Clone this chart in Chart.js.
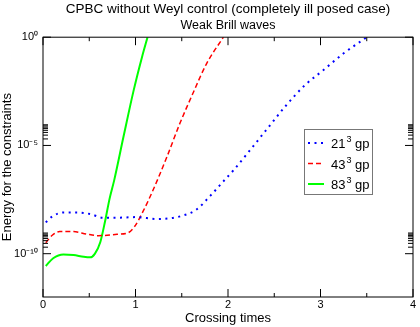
<!DOCTYPE html>
<html>
<head>
<meta charset="utf-8">
<script src="https://cdn.jsdelivr.net/npm/chart.js@4.4.1/dist/chart.umd.min.js"></script>
<style>
  html, body { margin: 0; padding: 0; background: #fff; }
</style>
</head>
<body>
<canvas id="chart" width="420" height="327"></canvas>
<script>
// values (time in crossing times, energy on log axis)
const seriesLabels = ['21³ gp', '43³ gp', '83³ gp'];

const t21 = [0.03, 0.10, 0.22, 0.36, 0.51, 0.65, 0.80, 1.01, 1.23, 1.37, 1.52, 1.66, 1.81, 1.95, 2.06, 2.24, 2.44, 2.63, 2.83, 3.03, 3.25, 3.48, 3.50];
const e21 = [2.8e-9, 5.2e-9, 8.1e-9, 8.1e-9, 6.8e-9, 4.6e-9, 4.6e-9, 4.9e-9, 4.0e-9, 4.3e-9, 5.9e-9, 1.1e-8, 4.8e-8, 2.2e-7, 7.2e-7, 6.2e-6, 7.2e-5, 7.2e-4, 6.0e-3, 3.0e-2, 0.18, 0.87, 1.0];

const t43 = [0.03, 0.10, 0.18, 0.33, 0.47, 0.60, 0.80, 0.92, 0.99, 1.08, 1.19, 1.34, 1.48, 1.62, 1.77, 1.95];
const e43 = [3.2e-10, 7.1e-10, 1.05e-9, 1.05e-9, 8.1e-10, 6.8e-10, 7.9e-10, 9.3e-10, 1.8e-9, 8.7e-9, 8.7e-8, 3.0e-6, 1.05e-4, 2.5e-3, 6.2e-2, 1.0];

const t83 = [0.03, 0.11, 0.22, 0.33, 0.44, 0.51, 0.56, 0.62, 0.67, 0.72, 0.77, 0.87, 0.98, 1.07, 1.13];
const e83 = [2.7e-11, 6.2e-11, 9.3e-11, 8.7e-11, 7.2e-11, 6.8e-11, 9.8e-11, 3.5e-10, 3.0e-9, 3.5e-8, 2.5e-7, 2.5e-5, 3.5e-3, 0.12, 1.0];

const xTicks = [0, 1, 2, 3, 4];
const yTicks = [1e-10, 1e-5, 1];
const yTickLabels = ['10⁻¹⁰', '10⁻⁵', '10⁰'];

const FONT = '"Liberation Sans", Arial, sans-serif';
Chart.defaults.font.family = FONT;
Chart.defaults.color = '#000';

const toPoints = (ts, es) => ts.map((t, i) => ({ x: t, y: es[i] }));

// frame, inward tick marks and the boxed legend
const framePlugin = {
    id: 'frame',
    afterDatasetsDraw(chart) {
        const ctx = chart.ctx;
        const { left, right, top, bottom } = chart.chartArea;
        const xs = chart.scales.x;
        const ys = chart.scales.y;

        ctx.save();
        ctx.strokeStyle = '#000';
        ctx.lineWidth = 1;
        ctx.setLineDash([]);
        ctx.strokeRect(left, top, right - left, bottom - top);

        const tick = (x1, y1, x2, y2) => {
            ctx.beginPath();
            ctx.moveTo(x1, y1);
            ctx.lineTo(x2, y2);
            ctx.stroke();
        };

        xTicks.forEach((v, i) => {
            const px = xs.getPixelForValue(v);
            tick(px, bottom, px, bottom - 8);
            tick(px, top, px, top + 8);
            if (i < xTicks.length - 1) {
                const mx = xs.getPixelForValue(v + 0.5);
                tick(mx, bottom, mx, bottom - 4);
                tick(mx, top, mx, top + 4);
            }
        });

        yTicks.forEach(v => {
            const py = ys.getPixelForValue(v);
            tick(left, py, left + 8, py);
            tick(right, py, right - 8, py);
            for (let k = 2; k <= 9; k++) {
                const my = ys.getPixelForValue(v * k);
                if (my < top) continue;
                tick(left, my, left + 5, my);
                tick(right, my, right - 5, my);
            }
        });

        // legend box
        const bx = 304, by = 129, bw = 68, bh = 65;
        ctx.fillStyle = '#fff';
        ctx.fillRect(bx, by, bw, bh);
        ctx.strokeStyle = '#777';
        ctx.strokeRect(bx + 0.5, by + 0.5, bw, bh);

        ctx.textBaseline = 'alphabetic';
        ctx.textAlign = 'left';
        chart.data.datasets.forEach((ds, i) => {
            const ly = by + 14 + i * 20.5;
            ctx.strokeStyle = ds.borderColor;
            ctx.lineWidth = ds.borderWidth;
            ctx.setLineDash(ds.borderDash || []);
            tick(bx + 4, ly, bx + 20, ly);
            ctx.setLineDash([]);
            ctx.fillStyle = '#000';
            // "21³ gp" -> base, raised superscript, rest
            const [base, rest] = ds.label.split('³');
            let tx = bx + 27;
            const base_y = ly + 5;
            ctx.font = '13px ' + FONT;
            ctx.fillText(base, tx, base_y);
            tx += ctx.measureText(base).width + 1;
            ctx.font = '9px ' + FONT;
            ctx.fillText('3', tx, base_y - 6);
            tx += ctx.measureText('3').width;
            ctx.font = '13px ' + FONT;
            ctx.fillText(rest, tx, base_y);
        });
        ctx.restore();
    }
};

new Chart(document.getElementById('chart').getContext('2d'), {
    type: 'line',
    data: {
        datasets: [
            {
                label: seriesLabels[0],
                data: toPoints(t21, e21),
                borderColor: '#0000ff',
                borderWidth: 2,
                borderDash: [2, 4.5],
                borderCapStyle: 'butt'
            },
            {
                label: seriesLabels[1],
                data: toPoints(t43, e43),
                borderColor: '#ff0000',
                borderWidth: 1.5,
                borderDash: [5, 3]
            },
            {
                label: seriesLabels[2],
                data: toPoints(t83, e83),
                borderColor: '#00ff00',
                borderWidth: 2
            }
        ]
    },
    options: {
        responsive: false,
        animation: false,
        devicePixelRatio: 1,
        cubicInterpolationMode: 'monotone',
        elements: { point: { radius: 0 } },
        layout: { padding: { left: 0, right: 7, top: 0, bottom: 0 } },
        plugins: {
            legend: { display: false },
            tooltip: { enabled: false },
            title: {
                display: true,
                text: 'CPBC without Weyl control (completely ill posed case)',
                font: { size: 13.5, weight: 'normal' },
                color: '#000',
                fullSize: false,
                padding: { top: 1, bottom: 1 }
            },
            subtitle: {
                display: true,
                text: 'Weak Brill waves',
                font: { size: 12.5, weight: 'normal' },
                color: '#000',
                fullSize: false,
                padding: { top: 0, bottom: 4 }
            }
        },
        scales: {
            x: {
                type: 'linear',
                min: 0,
                max: 4,
                grid: { display: false, drawTicks: false },
                border: { display: false },
                ticks: { stepSize: 1, font: { size: 11 }, padding: 1, maxRotation: 0 },
                afterBuildTicks: s => { s.ticks = xTicks.map(v => ({ value: v })); },
                afterFit: s => { s.height = 30; },
                title: {
                    display: true,
                    text: 'Crossing times',
                    font: { size: 13 },
                    padding: { top: 0, bottom: 1 }
                }
            },
            y: {
                type: 'logarithmic',
                min: 1e-12,
                max: 1,
                grid: { display: false, drawTicks: false },
                border: { display: false },
                ticks: {
                    font: { size: 11 },
                    padding: 5,
                    callback: v => {
                        const i = yTicks.findIndex(t => Math.abs(Math.log10(t) - Math.log10(v)) < 1e-6);
                        return i >= 0 ? yTickLabels[i] : '';
                    }
                },
                afterBuildTicks: s => { s.ticks = yTicks.map(v => ({ value: v })); },
                afterFit: s => { s.width = 43; },
                title: {
                    display: true,
                    text: 'Energy for the constraints',
                    font: { size: 13 },
                    padding: { top: 0, bottom: 0 }
                }
            }
        }
    },
    plugins: [framePlugin]
});
</script>
</body>
</html>
